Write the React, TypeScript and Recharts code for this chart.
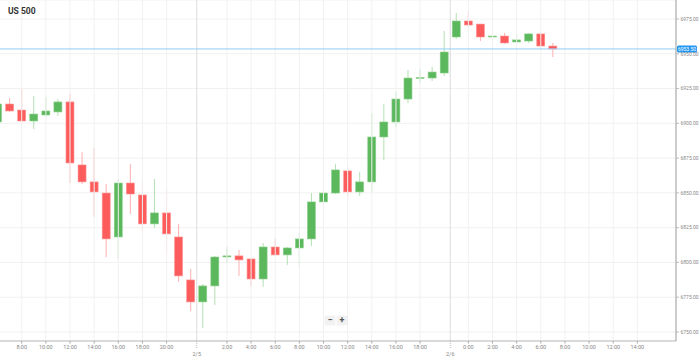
import React from 'react';
import { ComposedChart, Bar, XAxis, YAxis, CartesianGrid, ReferenceLine } from 'recharts';

const opens = [6901.0, 6913.9, 6909.6, 6901.7, 6906.0, 6908.2, 6915.4, 6870.1, 6857.9, 6849.9, 6818.3, 6857.1, 6848.5, 6827.7, 6835.6, 6818.3, 6787.4, 6771.6, 6783.1, 6803.9, 6804.7, 6802.5, 6788.1, 6811.1, 6805.4, 6810.4, 6816.9, 6843.5, 6849.9, 6865.8, 6850.7, 6857.9, 6890.2, 6901.0, 6917.5, 6932.3, 6932.6, 6936.2, 6962.1, 6973.6, 6971.4, 6962.1, 6962.8, 6958.5, 6959.2, 6964.3, 6955.6];
const highs = [6917.5, 6918.2, 6924.7, 6919.7, 6919.0, 6917.5, 6921.1, 6879.4, 6882.3, 6856.4, 6860.0, 6870.8, 6857.9, 6860.0, 6853.5, 6827.7, 6795.3, 6784.5, 6804.7, 6811.1, 6809.0, 6803.2, 6814.0, 6816.9, 6811.1, 6821.2, 6849.9, 6850.7, 6870.8, 6868.6, 6865.1, 6907.5, 6913.9, 6922.6, 6938.4, 6939.1, 6940.5, 6966.4, 6979.4, 6980.8, 6971.4, 6968.6, 6965.0, 6964.3, 6965.0, 6965.0, 6957.8];
const lows = [6898.1, 6908.2, 6901.0, 6896.0, 6904.6, 6905.3, 6857.1, 6856.4, 6832.7, 6803.9, 6802.5, 6834.8, 6821.2, 6824.8, 6806.1, 6786.0, 6765.1, 6752.9, 6769.4, 6799.6, 6790.3, 6783.1, 6782.4, 6804.7, 6798.2, 6797.5, 6811.9, 6835.6, 6849.2, 6847.1, 6847.8, 6850.7, 6873.7, 6897.4, 6914.6, 6929.0, 6930.5, 6934.1, 6960.7, 6970.0, 6959.2, 6959.2, 6957.4, 6957.8, 6957.8, 6955.3, 6947.7];
const closes = [6913.9, 6908.9, 6901.7, 6906.7, 6908.9, 6915.4, 6871.5, 6857.9, 6850.7, 6816.9, 6857.1, 6849.2, 6827.7, 6835.6, 6820.5, 6790.3, 6771.6, 6783.1, 6803.9, 6804.7, 6801.8, 6788.1, 6811.1, 6805.4, 6810.4, 6816.9, 6843.5, 6849.9, 6866.5, 6850.7, 6857.9, 6890.2, 6901.0, 6917.5, 6932.6, 6933.0, 6936.9, 6951.3, 6973.6, 6970.7, 6962.1, 6962.8, 6957.8, 6960.0, 6964.3, 6955.6, 6953.5];

const timeTicks = [2, 4, 6, 8, 10, 12, 14, 19, 21, 23, 25, 27, 29, 31, 33, 35, 39, 41, 43, 45, 47, 49, 51, 53];
const timeLabels = ['8:00', '10:00', '12:00', '14:00', '16:00', '18:00', '20:00', '2:00', '4:00', '6:00', '8:00', '10:00', '12:00', '14:00', '16:00', '18:00', '0:00', '2:00', '4:00', '6:00', '8:00', '10:00', '12:00', '14:00'];
const dateTicks = [16.5, 37.5];
const dateLabels = ['2/5', '2/6'];
const priceTicks = [6750, 6775, 6800, 6825, 6850, 6875, 6900, 6925, 6950, 6975];
const lastPrice = 6953.5;
const lastPriceLabel = '6953.50';
const title = 'US 500';

const data = opens.map((o, i) => ({ slot: i, open: o, high: highs[i], low: lows[i], close: closes[i] }));
const allTicks = [...timeTicks, ...dateTicks].sort((a, b) => a - b);

const FONT = 'Roboto, "Open Sans", sans-serif';

const Candle = (props: any) => {
  const { x, y, width, height } = props;
  const p = props.payload || props;
  const o = p.open, c = p.close, h = p.high, l = p.low;
  const up = c >= o;
  const k = h - l > 0 ? height / (h - l) : 0;
  const top = y + (h - Math.max(o, c)) * k;
  const bot = y + (h - Math.min(o, c)) * k;
  const cx = x + width / 2;
  return (
    <g>
      <line x1={cx} x2={cx} y1={y} y2={y + height} stroke={up ? '#b3e0b3' : '#ffb0b0'} strokeWidth={1} />
      <rect x={x} y={top} width={width} height={Math.max(bot - top, 1)} fill={up ? '#5cb85c' : '#fd5c5c'} stroke={up ? '#8fd08f' : '#ff9595'} strokeWidth={0.6} />
    </g>
  );
};

const XTick = (props: any) => {
  const { x, y, payload } = props;
  const v = payload.value;
  const di = dateTicks.indexOf(v);
  if (di >= 0) {
    return (
      <g>
        <line x1={x} x2={x} y1={y} y2={y + 8} stroke="#aaa" strokeWidth={0.8} strokeDasharray="1 1" />
        <text x={x} y={y + 15} textAnchor="middle" fontSize={5.5} fill="#888" fontFamily={FONT}>{dateLabels[di]}</text>
      </g>
    );
  }
  const ti = timeTicks.indexOf(v);
  return (
    <g>
      <line x1={x} x2={x} y1={y} y2={y + 2.5} stroke="#999" strokeWidth={0.8} />
      <text x={x} y={y + 8} textAnchor="middle" fontSize={5.5} fill="#888" fontFamily={FONT}>{ti >= 0 ? timeLabels[ti] : ''}</text>
    </g>
  );
};

const PriceTag = (props: any) => {
  const vb = props.viewBox || {};
  const x = (vb.x || 0) + (vb.width || 0) + 1;
  const y = vb.y || 0;
  return (
    <g>
      <rect x={x} y={y - 3.5} width={20} height={7} rx={1.5} fill="#2196f3" />
      <text x={x + 10} y={y + 2} textAnchor="middle" fontSize={5} fill="#fff" fontFamily={FONT}>{lastPriceLabel}</text>
    </g>
  );
};

const btn: React.CSSProperties = {
  position: 'absolute', top: 316, width: 10, height: 9, background: '#f2f2f2',
  boxShadow: '0 0 1px rgba(0,0,0,0.15)', fontSize: 9, lineHeight: '9px', textAlign: 'center',
  color: '#555', fontFamily: FONT, fontWeight: 700,
};

export default function App() {
  return (
    <div style={{ position: 'absolute', left: 0, top: 0, width: 699, height: 358, background: '#fff' }}>
      <ComposedChart width={699} height={358} data={data} margin={{ top: 0, right: 0, bottom: 0, left: 0 }}>
        <CartesianGrid vertical={false} stroke="#f1f1f1" strokeWidth={1} />
        {timeTicks.map((t) => (
          <ReferenceLine key={'v' + t} x={t} stroke="#f1f1f1" strokeWidth={1} />
        ))}
        {dateTicks.map((t) => (
          <ReferenceLine key={'d' + t} x={t} stroke="#dcdcdc" strokeWidth={1} />
        ))}
        <XAxis
          type="number"
          dataKey="slot"
          domain={[0.2, 56.2]}
          allowDataOverflow
          ticks={allTicks}
          interval={0}
          height={17}
          tickSize={0}
          tickMargin={0}
          tickLine={false}
          axisLine={{ stroke: '#bbb' }}
          tick={<XTick />}
        />
        <YAxis
          orientation="right"
          width={23}
          domain={[6743.5, 6988.7]}
          allowDataOverflow
          ticks={priceTicks}
          interval={0}
          tickSize={3}
          tickMargin={1.5}
          axisLine={{ stroke: '#999' }}
          tickLine={{ stroke: '#bbb' }}
          tick={{ fontSize: 5, fill: '#888', fontFamily: FONT }}
          tickFormatter={(v: number) => v.toFixed(2)}
        />
        <Bar
          dataKey={(d: any) => [d.low, d.high]}
          barSize={8}
          shape={<Candle />}
          isAnimationActive={false}
        />
        <ReferenceLine y={lastPrice} stroke="#90cdf4" strokeWidth={1} label={<PriceTag />} />
      </ComposedChart>
      <div style={{ position: 'absolute', left: 8, top: 6, fontSize: 8.5, lineHeight: '10px', fontWeight: 700, color: '#333', fontFamily: FONT }}>{title}</div>
      <div style={{ ...btn, left: 325 }}>−</div>
      <div style={{ ...btn, left: 337 }}>+</div>
    </div>
  );
}
